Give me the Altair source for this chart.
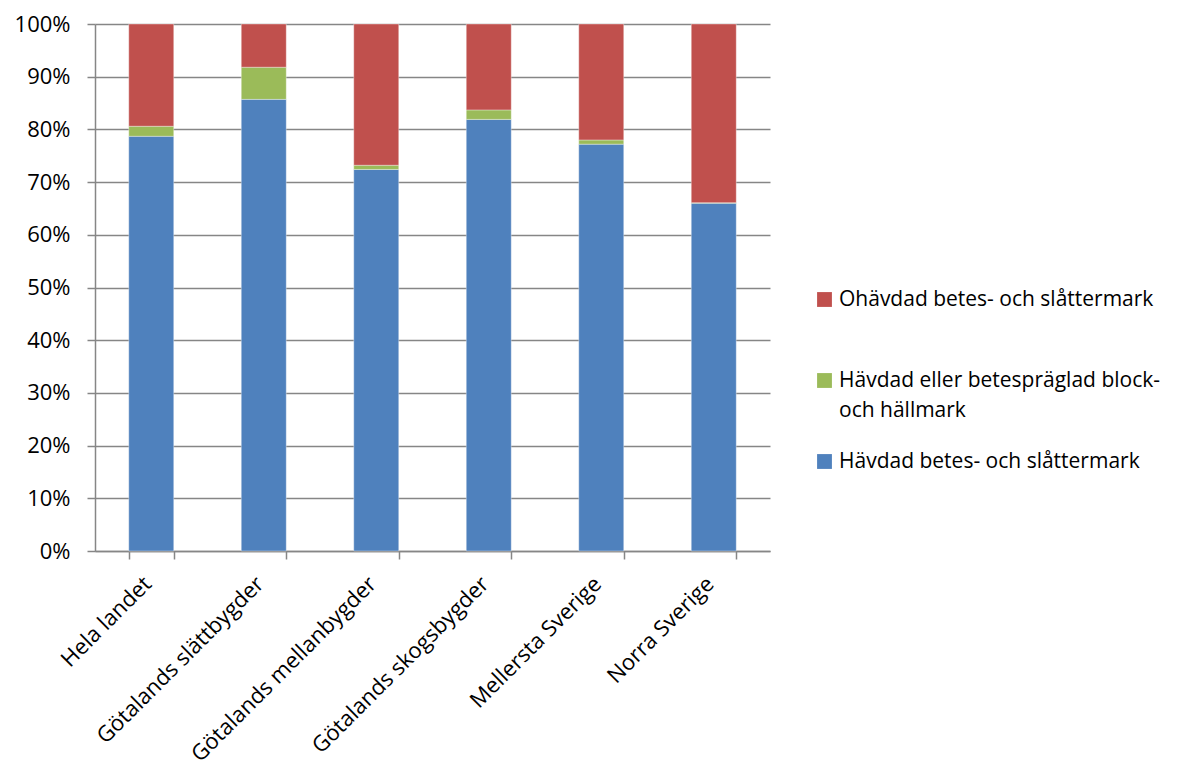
import altair as alt
import pandas as pd

categories = ["Hela landet", "Götalands slättbygder", "Götalands mellanbygder",
              "Götalands skogsbygder", "Mellersta Sverige", "Norra Sverige"]
series = ["Ohävdad betes- och slåttermark",
          "Hävdad eller betespräglad block- och hällmark",
          "Hävdad betes- och slåttermark"]
colors = ["#C0504D", "#9BBB59", "#4F81BD"]
havdad = [78.7, 85.7, 72.4, 81.9, 77.2, 66.0]
block = [1.9, 6.1, 0.8, 1.8, 0.8, 0.1]
ohavdad = [round(100 - a - b, 1) for a, b in zip(havdad, block)]

rows = []
for i, c in enumerate(categories):
    for s, v, o in [(series[2], havdad[i], 0), (series[1], block[i], 1), (series[0], ohavdad[i], 2)]:
        rows.append({"kat": c, "serie": s, "andel": v / 100, "ord": o})
df = pd.DataFrame(rows)

FONT = "Open Sans"
FS = 21
grid = "#868686"

label_expr = ("datum.label == 'Hävdad eller betespräglad block- och hällmark' ? "
              "['Hävdad eller betespräglad block-', 'och hällmark'] : [datum.label, '']")

chart = alt.Chart(df).mark_bar(stroke="white", strokeWidth=0.6, strokeOpacity=0.6).encode(
    x=alt.X("kat:N", sort=categories, title=None,
            scale=alt.Scale(paddingInner=0.6, paddingOuter=0.3),
            axis=alt.Axis(labelAngle=-45, labelAlign="right", labelBaseline="middle",
                          labelFontSize=22, labelFont=FONT, labelColor="#000000",
                          labelLimit=500, labelOffset=-4,
                          tickBand="extent", tickSize=8, tickColor=grid, tickWidth=1.5,
                          domainColor=grid, domainWidth=1.5, labelPadding=21)),
    y=alt.Y("andel:Q", stack="zero", title=None,
            scale=alt.Scale(domain=[0, 1]),
            axis=alt.Axis(format=".0%", values=[i / 10 for i in range(11)],
                          labelFontSize=22, labelFont=FONT, labelColor="#000000",
                          gridColor=grid, gridWidth=1.5, tickColor=grid, tickSize=8,
                          tickWidth=1.5,
                          domainColor=grid, domainWidth=1.5, labelPadding=17)),
    color=alt.Color("serie:N", scale=alt.Scale(domain=series, range=colors), title=None,
                    legend=alt.Legend(orient="none", legendX=719, legendY=265,
                                      symbolType="square", symbolSize=220,
                                      symbolStrokeWidth=0,
                                      labelFont=FONT, labelFontSize=FS, labelColor="#000000",
                                      labelLimit=400, rowPadding=29,
                                      labelExpr=label_expr)),
    order=alt.Order("ord:Q"),
).properties(
    width=675, height=527,
    autosize=alt.AutoSizeParams(type="none"),
    padding={"left": 87, "top": 16, "right": 410, "bottom": 220},
).configure(style={"guide-label": {"lineHeight": 30}}).configure_view(stroke=None)

chart.save("out.html", embed_options={"renderer": "svg", "actions": False})
